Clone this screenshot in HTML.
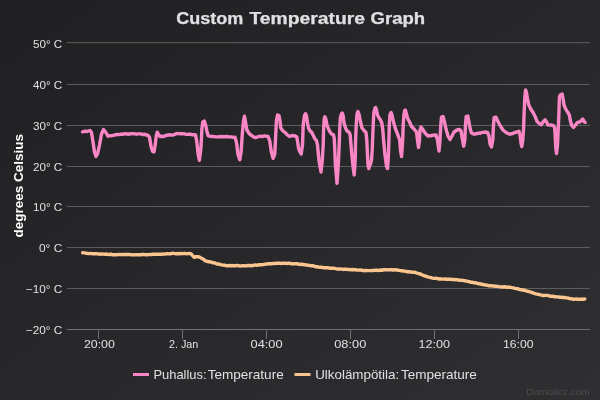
<!DOCTYPE html>
<html><head><meta charset="utf-8"><title>Custom Temperature Graph</title>
<style>html,body{margin:0;padding:0;background:#272729;overflow:hidden}body{width:600px;height:400px}</style></head>
<body>
<svg width="600" height="400" viewBox="0 0 600 400" style="display:block;font-family:'Liberation Sans',sans-serif">
<defs><linearGradient id="bg" x1="0" y1="0" x2="1" y2="1"><stop offset="0" stop-color="#202022"/><stop offset="1" stop-color="#2f2f31"/></linearGradient></defs>
<rect width="600" height="400" fill="url(#bg)"/>
<path d="M67 42.65 H590" stroke="#5c5c5f" stroke-width="1" fill="none"/>
<path d="M67 84.5 H590" stroke="#5c5c5f" stroke-width="1" fill="none"/>
<path d="M67 125.5 H590" stroke="#5c5c5f" stroke-width="1" fill="none"/>
<path d="M67 166.5 H590" stroke="#5c5c5f" stroke-width="1" fill="none"/>
<path d="M67 206.5 H590" stroke="#5c5c5f" stroke-width="1" fill="none"/>
<path d="M67 247.5 H590" stroke="#5c5c5f" stroke-width="1" fill="none"/>
<path d="M67 288.5 H590" stroke="#5c5c5f" stroke-width="1" fill="none"/>
<path d="M67 329.5 H590" stroke="#707073" stroke-width="1" fill="none"/>
<path d="M98.5 329.5 V339" stroke="#707073" stroke-width="1" fill="none"/>
<path d="M182.5 329.5 V339" stroke="#707073" stroke-width="1" fill="none"/>
<path d="M266.5 329.5 V339" stroke="#707073" stroke-width="1" fill="none"/>
<path d="M350.5 329.5 V339" stroke="#707073" stroke-width="1" fill="none"/>
<path d="M434.5 329.5 V339" stroke="#707073" stroke-width="1" fill="none"/>
<path d="M518.5 329.5 V339" stroke="#707073" stroke-width="1" fill="none"/>
<g style="will-change:transform">
<text x="62.3" y="48.0" text-anchor="end" font-size="11" fill="#E0E0E3" textLength="29.3" lengthAdjust="spacingAndGlyphs">50° C</text>
<text x="62.3" y="88.8" text-anchor="end" font-size="11" fill="#E0E0E3" textLength="29.3" lengthAdjust="spacingAndGlyphs">40° C</text>
<text x="62.3" y="129.7" text-anchor="end" font-size="11" fill="#E0E0E3" textLength="29.3" lengthAdjust="spacingAndGlyphs">30° C</text>
<text x="62.3" y="170.5" text-anchor="end" font-size="11" fill="#E0E0E3" textLength="29.3" lengthAdjust="spacingAndGlyphs">20° C</text>
<text x="62.3" y="211.3" text-anchor="end" font-size="11" fill="#E0E0E3" textLength="29.3" lengthAdjust="spacingAndGlyphs">10° C</text>
<text x="62.3" y="252.1" text-anchor="end" font-size="11" fill="#E0E0E3" textLength="23.3" lengthAdjust="spacingAndGlyphs">0° C</text>
<text x="62.3" y="293.0" text-anchor="end" font-size="11" fill="#E0E0E3" textLength="36.5" lengthAdjust="spacingAndGlyphs">−10° C</text>
<text x="62.3" y="333.8" text-anchor="end" font-size="11" fill="#E0E0E3" textLength="36.5" lengthAdjust="spacingAndGlyphs">−20° C</text>
<text x="84.0" y="348" font-size="11" fill="#E0E0E3" textLength="30.8" lengthAdjust="spacingAndGlyphs">20:00</text>
<text x="168.9" y="348" font-size="11" fill="#E0E0E3" textLength="29.4" lengthAdjust="spacingAndGlyphs">2. Jan</text>
<text x="250.5" y="348" font-size="11" fill="#E0E0E3" textLength="32.1" lengthAdjust="spacingAndGlyphs">04:00</text>
<text x="334.2" y="348" font-size="11" fill="#E0E0E3" textLength="32.1" lengthAdjust="spacingAndGlyphs">08:00</text>
<text x="418.4" y="348" font-size="11" fill="#E0E0E3" textLength="31.6" lengthAdjust="spacingAndGlyphs">12:00</text>
<text x="503.0" y="348" font-size="11" fill="#E0E0E3" textLength="30.6" lengthAdjust="spacingAndGlyphs">16:00</text>
<text x="176.2" y="24.2" font-size="15.6" font-weight="bold" fill="#E0E0E3" stroke="#E0E0E3" stroke-width="0.25" textLength="67" lengthAdjust="spacingAndGlyphs">Custom</text>
<text x="249.5" y="24.2" font-size="15.6" font-weight="bold" fill="#E0E0E3" stroke="#E0E0E3" stroke-width="0.25" textLength="115.5" lengthAdjust="spacingAndGlyphs">Temperature</text>
<text x="370.6" y="24.2" font-size="15.6" font-weight="bold" fill="#E0E0E3" stroke="#E0E0E3" stroke-width="0.25" textLength="54.6" lengthAdjust="spacingAndGlyphs">Graph</text>
<text transform="translate(23,185.7) rotate(-90)" text-anchor="middle" font-size="12" font-weight="bold" fill="#ffffff" textLength="103.5" lengthAdjust="spacingAndGlyphs">degrees Celsius</text>
</g>
<path d="M82.5 131.8 L83.9 131.5 L85.2 131.2 L86.6 131.5 L88.0 131.2 L90.0 130.5 L91.5 132.5 L93.0 142.0 L94.5 152.0 L96.0 156.5 L97.5 154.0 L99.5 145.0 L101.5 134.0 L103.5 129.5 L105.5 132.0 L108.0 136.2 L109.5 135.7 L111.0 135.8 L112.7 135.5 L114.3 135.0 L116.0 134.8 L117.3 134.3 L118.7 134.6 L120.0 134.5 L121.3 134.0 L122.7 134.3 L124.0 133.9 L125.3 133.8 L126.7 134.0 L128.0 134.0 L129.4 134.2 L130.8 133.6 L132.2 133.6 L133.6 133.9 L135.0 133.8 L136.6 134.2 L138.1 133.9 L139.7 133.9 L141.2 134.0 L142.8 134.6 L144.4 134.1 L145.9 135.0 L147.5 135.0 L149.4 136.9 L151.0 146.2 L152.5 151.2 L154.0 151.9 L155.0 146.2 L156.2 136.2 L157.2 132.2 L158.5 134.4 L160.0 136.5 L161.9 136.3 L163.8 136.5 L165.4 135.7 L167.1 135.2 L168.8 135.0 L170.4 134.8 L172.1 135.1 L173.8 134.8 L175.6 133.9 L177.5 133.5 L179.2 133.6 L180.8 133.8 L182.5 133.8 L184.2 133.9 L185.8 134.2 L187.5 134.4 L189.2 134.2 L190.8 134.3 L192.5 134.8 L194.1 134.6 L195.6 135.0 L196.9 142.5 L198.1 153.8 L199.4 160.3 L201.0 147.5 L201.9 128.8 L202.8 121.9 L204.4 121.0 L205.6 125.0 L206.9 131.2 L208.1 135.6 L209.7 136.2 L211.2 136.5 L212.8 136.5 L214.4 136.6 L215.9 136.9 L217.5 136.9 L219.1 136.8 L220.6 136.5 L222.2 136.8 L223.8 136.5 L225.3 136.8 L226.9 136.5 L228.4 136.9 L230.0 136.9 L231.7 137.0 L233.3 137.4 L235.0 137.2 L236.5 142.5 L238.1 155.0 L239.8 159.8 L241.2 151.2 L242.2 135.0 L243.5 121.2 L244.5 116.2 L245.6 122.5 L246.9 130.0 L249.4 133.8 L252.5 136.2 L255.0 137.5 L256.9 137.2 L258.8 136.5 L260.4 136.2 L262.1 136.6 L263.8 136.0 L265.2 135.9 L266.7 136.3 L268.1 136.5 L269.8 141.2 L271.2 151.2 L273.1 158.3 L274.8 153.8 L275.8 133.0 L276.5 120.0 L277.5 115.0 L279.0 115.5 L280.0 121.0 L280.8 128.0 L282.5 130.5 L285.0 132.5 L287.5 135.0 L289.5 136.5 L292.0 135.5 L293.5 135.9 L295.0 135.8 L296.8 137.0 L297.8 143.0 L298.5 148.0 L299.3 150.6 L301.2 154.0 L302.5 145.0 L303.2 125.0 L304.5 115.5 L305.5 113.7 L306.5 116.0 L307.5 123.0 L308.5 128.0 L310.0 131.0 L311.5 132.0 L313.5 136.0 L315.0 139.0 L316.5 140.7 L317.5 145.0 L319.0 160.8 L321.0 172.0 L322.3 160.0 L323.2 145.0 L323.6 130.0 L324.2 119.0 L324.9 116.8 L325.8 119.0 L327.0 125.0 L328.5 129.0 L330.0 132.0 L331.5 134.0 L333.4 134.6 L334.2 138.0 L334.6 145.0 L335.3 163.0 L337.0 183.3 L338.3 165.0 L339.2 145.0 L339.7 130.0 L340.3 118.0 L341.5 113.7 L342.3 113.0 L343.2 116.0 L344.0 123.0 L345.5 128.0 L347.0 131.0 L349.0 132.2 L350.2 135.0 L351.0 145.0 L352.2 158.5 L353.2 168.0 L354.2 175.0 L355.2 160.0 L355.6 140.0 L356.2 125.0 L357.0 114.0 L358.0 111.5 L359.2 115.0 L360.5 122.0 L362.0 128.0 L364.0 130.5 L366.0 132.5 L366.8 140.0 L367.5 155.0 L368.0 165.0 L368.8 168.5 L370.5 164.0 L371.5 160.0 L372.2 150.0 L372.6 140.0 L373.2 125.0 L373.8 113.0 L374.8 108.5 L375.5 107.5 L376.5 110.0 L377.5 115.0 L379.0 118.0 L380.5 120.0 L381.8 123.0 L382.8 130.0 L383.6 140.0 L385.0 155.0 L386.5 166.0 L387.5 168.5 L388.2 160.0 L388.6 150.0 L388.9 140.0 L389.3 125.0 L389.9 115.0 L391.0 112.5 L392.0 115.0 L393.5 122.0 L395.5 129.0 L397.5 134.0 L399.0 138.0 L399.7 140.0 L400.5 150.0 L401.5 156.5 L402.2 148.0 L402.7 140.0 L403.2 125.0 L403.9 115.0 L404.7 110.5 L405.3 110.0 L406.2 113.0 L407.5 118.0 L409.0 121.0 L410.0 123.0 L411.5 126.5 L414.5 129.5 L416.5 132.0 L417.5 140.0 L418.5 147.5 L419.5 140.0 L420.0 130.0 L421.0 127.0 L422.5 129.0 L425.0 133.0 L428.0 136.0 L429.3 135.6 L430.7 135.7 L432.0 135.5 L433.3 135.0 L434.7 135.3 L436.0 135.0 L437.5 140.0 L439.0 151.0 L440.0 140.0 L440.8 125.0 L441.5 117.0 L443.0 116.5 L444.5 122.0 L446.0 129.0 L448.0 136.0 L450.0 139.5 L452.0 136.0 L454.0 132.0 L457.0 130.0 L459.5 129.5 L461.0 131.0 L462.2 138.0 L463.7 146.2 L464.8 140.0 L465.5 125.0 L466.2 116.5 L467.8 116.0 L468.8 121.0 L470.0 128.0 L471.5 133.0 L473.5 134.0 L475.2 134.0 L477.0 133.5 L478.3 133.3 L479.7 133.3 L481.0 132.8 L482.3 132.4 L483.7 132.4 L485.0 132.0 L487.5 132.5 L489.0 136.0 L490.0 144.0 L491.5 147.0 L492.8 140.0 L493.5 125.0 L494.2 117.5 L496.0 117.2 L497.2 120.0 L499.0 123.5 L501.0 127.0 L503.0 130.0 L506.0 132.5 L507.5 133.3 L509.0 134.0 L510.5 134.0 L512.0 133.8 L513.5 133.1 L515.0 132.5 L517.0 132.0 L519.0 131.3 L520.0 135.0 L521.0 143.0 L521.8 146.5 L522.8 140.0 L523.5 130.0 L524.0 116.2 L524.8 97.5 L525.6 90.0 L526.5 92.5 L527.5 98.8 L528.8 105.0 L530.6 108.8 L533.1 112.5 L535.0 116.2 L536.9 121.2 L538.8 123.1 L541.2 124.8 L543.1 121.9 L545.0 119.8 L546.5 121.9 L547.8 124.8 L549.5 125.1 L551.2 125.0 L553.5 125.6 L554.6 127.5 L555.1 135.0 L555.8 148.0 L556.5 153.5 L557.5 145.0 L558.2 130.0 L558.8 116.2 L559.4 97.5 L560.2 95.0 L562.2 94.0 L563.1 98.8 L564.0 105.0 L565.6 108.8 L567.5 111.9 L569.4 115.0 L570.2 120.0 L571.5 125.0 L573.5 127.5 L575.6 124.8 L577.5 122.5 L580.0 121.9 L582.8 119.0 L584.4 121.9 L585.2 122.5" stroke="#f986c5" stroke-width="3.4" fill="none" stroke-linejoin="round" stroke-linecap="round"/>
<path d="M82.6 252.8 L84.4 252.9 L86.3 253.2 L88.2 253.6 L90.0 253.5 L91.5 253.6 L93.0 253.7 L94.5 253.8 L96.0 253.6 L97.5 253.9 L99.0 254.0 L100.5 254.2 L102.0 253.9 L103.5 254.1 L105.0 254.2 L106.5 254.0 L108.0 254.5 L109.5 254.5 L111.0 254.2 L112.5 254.8 L114.0 254.8 L115.5 254.7 L117.0 254.7 L118.5 254.4 L120.0 254.7 L121.5 254.4 L123.0 254.7 L124.5 254.4 L126.0 254.5 L127.5 254.5 L129.0 254.4 L130.5 254.7 L132.0 254.7 L133.5 254.9 L135.0 254.7 L136.5 254.7 L138.0 254.7 L139.5 254.6 L141.0 254.7 L142.5 254.5 L144.0 254.4 L145.5 254.8 L147.0 254.8 L148.5 254.6 L150.0 254.4 L151.7 254.5 L153.3 254.3 L155.0 254.2 L156.7 254.2 L158.3 254.1 L160.0 254.3 L161.5 254.3 L163.0 254.0 L164.5 254.1 L166.0 253.8 L167.5 253.7 L169.0 253.9 L170.5 253.8 L172.0 253.3 L173.5 253.4 L175.0 253.6 L176.5 253.8 L178.0 253.5 L179.5 253.8 L181.0 253.5 L182.5 253.6 L184.2 253.3 L185.8 253.6 L187.4 253.7 L189.1 253.4 L190.8 253.6 L192.2 255.2 L194.2 257.3 L196.0 256.7 L198.2 256.7 L200.1 257.4 L202.0 258.5 L203.5 259.3 L205.0 260.6 L206.5 261.2 L208.0 261.7 L209.5 261.7 L211.0 262.2 L212.5 262.7 L214.0 262.8 L215.5 263.2 L217.0 264.0 L218.5 263.9 L220.0 264.5 L221.5 264.8 L223.0 265.1 L224.5 265.2 L226.0 265.7 L227.5 265.8 L229.0 265.5 L230.5 265.8 L232.0 265.5 L233.5 265.7 L235.0 265.7 L236.7 265.5 L238.3 265.6 L240.0 266.0 L241.7 265.9 L243.3 265.6 L245.0 265.8 L246.5 265.9 L248.0 265.4 L249.5 265.5 L251.0 265.7 L252.5 265.5 L254.0 265.3 L255.5 264.9 L257.0 265.3 L258.5 264.8 L260.0 264.7 L261.5 264.8 L263.0 264.6 L264.5 264.3 L266.0 264.1 L267.5 263.8 L269.0 263.7 L270.5 263.8 L272.0 263.7 L273.5 263.4 L275.0 263.5 L276.5 263.2 L278.0 263.2 L279.5 263.2 L281.0 263.5 L282.5 263.2 L284.0 263.2 L285.5 263.2 L287.0 263.5 L288.5 263.2 L290.0 263.3 L291.5 263.8 L293.0 263.9 L294.5 263.8 L296.0 263.8 L297.5 263.8 L299.0 264.3 L300.5 264.5 L302.0 264.2 L303.5 264.7 L305.0 264.6 L306.5 265.1 L308.0 265.2 L309.5 265.4 L311.0 265.8 L312.5 265.8 L314.0 266.0 L315.5 266.8 L317.0 266.6 L318.5 267.1 L320.0 267.2 L321.5 267.2 L323.0 267.7 L324.5 267.7 L326.0 267.6 L327.5 267.7 L329.0 268.0 L330.7 268.3 L332.3 268.1 L334.0 268.3 L335.7 268.7 L337.3 269.0 L339.0 268.9 L340.5 269.1 L342.0 269.0 L343.5 269.5 L345.0 269.2 L346.5 269.2 L348.0 269.6 L349.5 269.5 L351.0 269.7 L352.5 269.5 L354.0 269.7 L355.5 269.8 L357.0 270.0 L358.5 270.1 L360.0 269.9 L361.5 270.1 L363.0 270.5 L364.5 270.7 L366.0 270.4 L367.5 270.6 L369.0 270.6 L370.5 270.6 L372.0 270.4 L373.5 270.6 L375.0 270.2 L376.5 270.1 L378.0 270.5 L379.5 270.2 L381.0 270.0 L382.5 270.2 L384.0 269.6 L385.5 269.9 L387.0 269.8 L388.5 269.9 L390.0 269.7 L391.5 269.7 L393.0 270.1 L394.5 269.6 L396.0 270.0 L397.5 270.0 L399.0 270.4 L400.5 270.7 L402.0 270.8 L403.5 271.0 L405.0 271.1 L406.5 271.5 L408.0 271.8 L409.5 271.7 L411.0 272.1 L412.5 272.2 L415.0 272.2 L416.5 273.0 L418.0 273.5 L419.5 273.7 L421.0 274.3 L422.5 275.1 L424.0 275.7 L425.5 276.1 L427.0 276.7 L428.5 277.1 L430.0 277.4 L431.5 277.9 L433.0 278.2 L434.5 278.4 L436.0 278.2 L437.5 278.6 L439.0 279.0 L440.5 278.8 L442.0 279.1 L443.5 279.1 L445.0 279.0 L446.5 279.2 L448.0 279.2 L449.5 279.2 L451.0 279.3 L452.5 279.7 L454.0 279.4 L455.5 279.9 L457.0 279.6 L458.5 280.0 L460.0 280.2 L461.5 280.3 L463.0 280.4 L464.5 280.8 L466.0 280.9 L467.5 281.3 L469.0 281.7 L470.5 282.2 L472.0 282.2 L473.5 282.7 L475.0 282.7 L476.5 283.2 L478.0 283.7 L479.5 283.7 L481.0 284.2 L482.5 284.3 L484.0 284.9 L485.5 285.0 L487.0 285.2 L488.5 285.7 L490.0 285.7 L491.5 285.7 L493.0 286.1 L494.5 286.0 L496.0 286.3 L497.5 286.4 L499.2 286.7 L500.9 286.9 L502.6 287.0 L504.3 286.8 L506.0 287.0 L507.5 287.2 L509.0 287.2 L510.5 287.3 L512.0 287.7 L513.5 287.9 L515.0 288.4 L516.5 288.7 L518.0 288.8 L519.5 289.3 L521.0 289.8 L522.5 289.8 L524.0 290.3 L525.5 290.5 L527.0 291.1 L528.5 291.4 L530.0 291.9 L531.5 292.3 L533.0 292.9 L534.5 293.5 L536.0 293.9 L537.5 294.2 L539.0 294.4 L540.5 295.0 L542.0 295.1 L543.5 295.6 L545.0 295.4 L546.5 295.4 L548.0 295.5 L549.5 296.0 L551.0 296.4 L552.5 296.1 L554.0 296.7 L555.5 296.8 L557.0 296.9 L558.5 296.9 L560.0 297.4 L561.5 297.1 L563.0 297.5 L564.5 297.5 L566.0 297.9 L567.5 297.9 L569.0 298.4 L570.5 298.9 L572.0 298.8 L573.5 299.3 L575.0 299.1 L576.5 299.0 L578.0 299.4 L579.5 299.3 L581.2 299.2 L583.0 299.2 L584.8 299.0" stroke="#fbc58f" stroke-width="3.4" fill="none" stroke-linejoin="round" stroke-linecap="round"/>
<g style="will-change:transform">
<path d="M133 374.5 H149" stroke="#f986c5" stroke-width="3" fill="none"/>
<text x="153.4" y="379.4" font-size="13" fill="#E0E0E3" textLength="53.2" lengthAdjust="spacingAndGlyphs">Puhallus:</text>
<text x="207.7" y="379.4" font-size="13" fill="#E0E0E3" textLength="76" lengthAdjust="spacingAndGlyphs">Temperature</text>
<path d="M294.5 374.5 H310.5" stroke="#fbc58f" stroke-width="3" fill="none"/>
<text x="315.2" y="379.4" font-size="13" fill="#E0E0E3" textLength="84" lengthAdjust="spacingAndGlyphs">Ulkolämpötila:</text>
<text x="400.9" y="379.4" font-size="13" fill="#E0E0E3" textLength="76" lengthAdjust="spacingAndGlyphs">Temperature</text>
<text x="589.7" y="395" text-anchor="end" font-size="9" fill="#4d4d50" textLength="63.4" lengthAdjust="spacingAndGlyphs">Domoticz.com</text>
</g>
</svg>
</body></html>
